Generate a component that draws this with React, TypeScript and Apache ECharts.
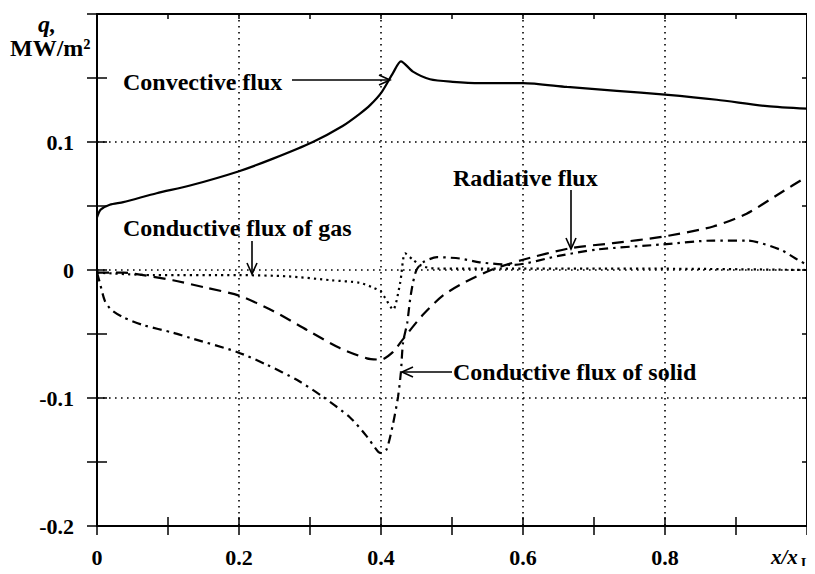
import React, { useEffect, useRef } from "react";
import * as echarts from "echarts";

const FONT = '"Liberation Serif", "Times New Roman", serif';

// x/xL positions and q (MW/m2) values
const convectiveX = [0, 0.005, 0.018, 0.037, 0.084, 0.131, 0.199, 0.248, 0.304, 0.346, 0.37, 0.385, 0.401, 0.417, 0.428, 0.445, 0.469, 0.501, 0.54, 0.6, 0.662, 0.732, 0.8, 0.873, 0.944, 1.0];
const convectiveY = [0.041, 0.047, 0.051, 0.053, 0.060, 0.066, 0.077, 0.087, 0.100, 0.1125, 0.122, 0.129, 0.139, 0.154, 0.163, 0.155, 0.149, 0.147, 0.146, 0.146, 0.143, 0.140, 0.137, 0.133, 0.128, 0.126];

const radiativeX = [0, 0.037, 0.065, 0.107, 0.155, 0.2, 0.248, 0.296, 0.342, 0.38, 0.4, 0.417, 0.431, 0.459, 0.487, 0.52, 0.555, 0.6, 0.666, 0.727, 0.797, 0.868, 0.915, 0.962, 1.0];
const radiativeY = [-0.002, -0.002, -0.004, -0.008, -0.014, -0.020, -0.032, -0.047, -0.061, -0.069, -0.070, -0.064, -0.054, -0.035, -0.020, -0.009, 0.0, 0.008, 0.017, 0.021, 0.026, 0.034, 0.044, 0.060, 0.073];

const solidX = [0, 0.004, 0.011, 0.02, 0.037, 0.065, 0.107, 0.131, 0.197, 0.239, 0.282, 0.318, 0.356, 0.38, 0.396, 0.401, 0.408, 0.417, 0.424, 0.428, 0.431, 0.437, 0.441, 0.445, 0.45, 0.459, 0.479, 0.511, 0.539, 0.586, 0.65, 0.704, 0.797, 0.868, 0.915, 0.962, 0.987, 1.0];
const solidY = [-0.002, -0.010, -0.024, -0.031, -0.037, -0.043, -0.049, -0.053, -0.064, -0.074, -0.086, -0.099, -0.115, -0.130, -0.142, -0.143, -0.140, -0.120, -0.099, -0.080, -0.057, -0.041, -0.023, -0.010, 0.0, 0.006, 0.010, 0.009, 0.006, 0.004, 0.011, 0.016, 0.020, 0.023, 0.023, 0.016, 0.008, 0.004];

const gasX = [0, 0.08, 0.2, 0.27, 0.33, 0.37, 0.39, 0.4, 0.406, 0.417, 0.427, 0.434, 0.445, 0.458, 0.48, 0.6, 0.8, 1.0];
const gasY = [-0.002, -0.004, -0.004, -0.005, -0.008, -0.010, -0.014, -0.017, -0.022, -0.031, -0.010, 0.013, 0.008, 0.003, 0.001, 0.001, 0.001, 0.0];

const xTickLabels = ["0", "0.2", "0.4", "0.6", "0.8"];
const yTickLabels = ["-0.2", "-0.1", "0", "0.1"];

const annotations = [
  "Convective flux",
  "Conductive flux of gas",
  "Radiative flux",
  "Conductive flux of solid",
];

const pairs = (xs: number[], ys: number[]) => xs.map((x, i) => [x, ys[i]]);

const tickAxis = (dim: "x" | "y", position: string, interval: number, inside: boolean, length: number, showLine: boolean) => {
  const base: any = {
    type: "value",
    position,
    interval,
    axisLine: { show: showLine, onZero: false, lineStyle: { color: "#000", width: 2 } },
    axisTick: { show: true, inside, length, lineStyle: { color: "#000", width: 1.5 } },
    axisLabel: { show: false },
    splitLine: { show: false },
  };
  if (dim === "x") {
    base.min = 0;
    base.max = 1;
  } else {
    base.min = -0.2;
    base.max = 0.2;
  }
  return base;
};

const labelStyle = { fontSize: 22, fontWeight: "bold", fontFamily: FONT, color: "#000" };
const gridLine = { show: true, lineStyle: { color: "#000", type: [1.6, 4.4], width: 1.6 } };

const textEl = (text: string, x: number, y: number, extra: any = {}) => ({
  type: "text",
  x,
  y,
  z: 100,
  style: {
    text,
    fontSize: 24,
    fontWeight: "bold",
    fontFamily: FONT,
    fill: "#000",
    align: "left",
    verticalAlign: "middle",
    ...extra,
  },
});

const lineEl = (x1: number, y1: number, x2: number, y2: number) => ({
  type: "line",
  z: 100,
  shape: { x1, y1, x2, y2 },
  style: { stroke: "#000", lineWidth: 1.6 },
});

const headEl = (pts: number[][]) => ({
  type: "polyline",
  z: 100,
  shape: { points: pts },
  style: { stroke: "#000", lineWidth: 1.6, fill: null },
});

export default function App() {
  const ref = useRef<HTMLDivElement>(null);

  useEffect(() => {
    if (!ref.current) return;
    const chart = echarts.init(ref.current, null, { renderer: "svg" });
    const option: any = {
      animation: false,
      backgroundColor: "#fff",
      grid: { left: 97, right: 8, top: 14, bottom: 48, containLabel: false },
      xAxis: [
        {
          type: "value",
          min: 0,
          max: 1,
          interval: 0.2,
          position: "bottom",
          axisLine: { show: true, onZero: false, lineStyle: { color: "#000", width: 2 } },
          axisTick: { show: false },
          axisLabel: {
            ...labelStyle,
            margin: 20,
            formatter: (v: number) => {
              const i = Math.round(v / 0.2);
              return i < xTickLabels.length ? xTickLabels[i] : "";
            },
          },
          splitLine: gridLine,
        },
        tickAxis("x", "bottom", 0.1, false, 9, false),
        tickAxis("x", "bottom", 0.1, true, 9, false),
        tickAxis("x", "top", 0.1, true, 5, true),
      ],
      yAxis: [
        {
          type: "value",
          min: -0.2,
          max: 0.2,
          interval: 0.1,
          position: "left",
          axisLine: { show: true, onZero: false, lineStyle: { color: "#000", width: 2 } },
          axisTick: { show: false },
          axisLabel: {
            ...labelStyle,
            margin: 23,
            formatter: (v: number) => {
              const i = Math.round((v + 0.2) / 0.1);
              return i < yTickLabels.length ? yTickLabels[i] : "";
            },
          },
          splitLine: gridLine,
        },
        tickAxis("y", "left", 0.05, false, 10, false),
        tickAxis("y", "left", 0.05, true, 10, false),
        tickAxis("y", "right", 0.05, true, 5, true),
      ],
      series: [
        {
          name: "Convective flux",
          type: "line",
          data: pairs(convectiveX, convectiveY),
          symbol: "none",
          smooth: 0.25,
          lineStyle: { color: "#000", width: 2.2, type: "solid" },
          z: 5,
        },
        {
          name: "Radiative flux",
          type: "line",
          data: pairs(radiativeX, radiativeY),
          symbol: "none",
          smooth: 0.25,
          lineStyle: { color: "#000", width: 2.2, type: [12, 7] },
          z: 5,
        },
        {
          name: "Conductive flux of solid",
          type: "line",
          data: pairs(solidX, solidY),
          symbol: "none",
          smooth: 0.25,
          lineStyle: { color: "#000", width: 2.2, type: [9, 5, 2.5, 5] },
          z: 5,
        },
        {
          name: "Conductive flux of gas",
          type: "line",
          data: pairs(gasX, gasY),
          symbol: "none",
          smooth: 0.25,
          lineStyle: { color: "#000", width: 2.2, type: [2.2, 4] },
          z: 5,
        },
      ],
      graphic: [
        textEl("q,", 38, 24, { fontStyle: "italic" }),
        textEl("MW/m²", 10, 48),
        textEl("x/x", 771, 557, { fontStyle: "italic", fontSize: 21 }),
        textEl("L", 801, 563, { fontSize: 14 }),
        textEl(annotations[0], 123, 82),
        lineEl(292, 80, 390, 80),
        headEl([[379, 75], [390, 80], [379, 85]]),
        textEl(annotations[1], 123, 228),
        lineEl(252, 241, 252, 274),
        headEl([[247, 263], [252, 274], [257, 263]]),
        textEl(annotations[2], 453, 178),
        lineEl(571, 190, 571, 249),
        headEl([[566, 238], [571, 249], [576, 238]]),
        textEl(annotations[3], 453, 372),
        lineEl(452, 372, 402, 372),
        headEl([[413, 367], [402, 372], [413, 377]]),
      ],
    };
    chart.setOption(option);
    return () => chart.dispose();
  }, []);

  return <div ref={ref} style={{ width: 815, height: 574, margin: -8 }} />;
}
